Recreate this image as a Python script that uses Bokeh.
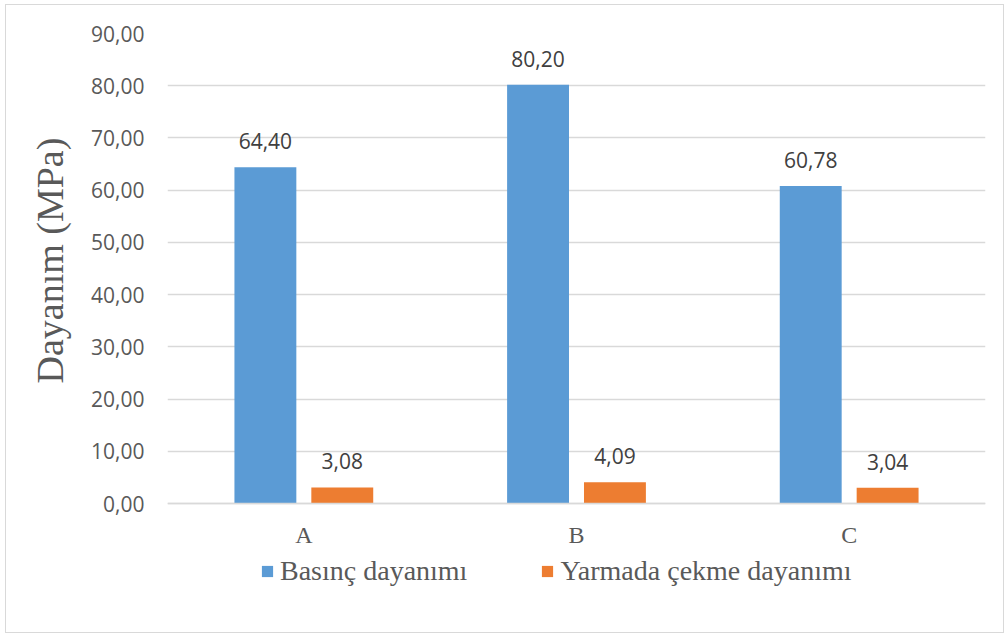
from bokeh.plotting import figure
from bokeh.models import ColumnDataSource, FactorRange, Range1d, FixedTicker, Legend, LegendItem, Title
from bokeh.transform import dodge
from bokeh.core.properties import value
from bokeh.embed import file_html
from bokeh.resources import INLINE

categories = ["A", "B", "C"]
basinc = [64.40, 80.20, 60.78]
yarmada = [3.08, 4.09, 3.04]
series_names = ["Basınç dayanımı", "Yarmada çekme dayanımı"]
y_ticks = [0, 10, 20, 30, 40, 50, 60, 70, 80, 90]
y_tick_labels = ["0,00", "10,00", "20,00", "30,00", "40,00", "50,00", "60,00", "70,00", "80,00", "90,00"]
y_title = "Dayanım (MPa)"

def fmt(v):
    return f"{v:.2f}".replace(".", ",")

src = ColumnDataSource(dict(
    cat=categories,
    basinc=basinc,
    yarmada=yarmada,
    basinc_lbl=[fmt(v) for v in basinc],
    yarmada_lbl=[fmt(v) for v in yarmada],
))

BLUE = "#5B9BD5"
ORANGE = "#ED7D31"
GRAY_TXT = "#595959"
GRID = "#d9d9d9"

# frame extends below the zero line to host the category labels and legend
p = figure(
    x_range=FactorRange(*categories, range_padding=0),
    y_range=Range1d(-24.7, 90),
    frame_width=818, frame_height=599,
    min_border_left=161, min_border_top=28, min_border_bottom=0, min_border_right=18,
    output_backend="svg", toolbar_location=None,
)
p.styles = {"border": "1px solid #d9d9d9", "margin": "4px 0px 0px 5px"}
p.outline_line_color = None
p.background_fill_color = "white"
p.border_fill_color = "white"

OFF = 0.141
W = 0.227
r1 = p.vbar(x=dodge("cat", -OFF, range=p.x_range), top="basinc", width=W, source=src,
            fill_color=BLUE, line_color=None)
r2 = p.vbar(x=dodge("cat", OFF, range=p.x_range), top="yarmada", width=W, source=src,
            fill_color=ORANGE, line_color=None)

for col, off in (("basinc", -OFF), ("yarmada", OFF)):
    p.text(x=dodge("cat", off, range=p.x_range), y=col, text=col + "_lbl", source=src,
           text_font=value("Open Sans"), text_font_size="21px", text_color="#404040",
           text_align="center", text_baseline="alphabetic", y_offset=-26)

# axes
p.xgrid.grid_line_color = None
p.ygrid.grid_line_color = GRID
p.ygrid.grid_line_width = 1.3
p.yaxis.ticker = FixedTicker(ticks=y_ticks)
p.yaxis.major_label_overrides = {t: l for t, l in zip(y_ticks, y_tick_labels)}
p.yaxis.axis_line_color = None
p.yaxis.major_tick_line_color = None
p.yaxis.minor_tick_line_color = None
p.yaxis.major_tick_out = 0
p.yaxis.major_label_standoff = 23
p.yaxis.major_label_text_font = "Open Sans"
p.yaxis.major_label_text_font_size = "21px"
p.yaxis.major_label_text_color = GRAY_TXT

title = Title(text=y_title, align="left", offset=249, standoff=36,
              text_font="Liberation Serif", text_font_size="38px",
              text_font_style="normal", text_color=GRAY_TXT)
p.add_layout(title, "left")

p.xaxis.fixed_location = 0
p.xaxis.axis_line_color = GRID
p.xaxis.axis_line_width = 1.3
p.xaxis.major_tick_line_color = None
p.xaxis.major_tick_out = 0
p.xaxis.major_label_standoff = 18
p.xaxis.major_label_text_font = "Liberation Serif"
p.xaxis.major_label_text_font_size = "24px"
p.xaxis.major_label_text_color = GRAY_TXT

legend = Legend(
    items=[LegendItem(label=series_names[0], renderers=[r1]),
           LegendItem(label=series_names[1], renderers=[r2])],
    orientation="horizontal",
    location=(93, 45),
    glyph_width=14, glyph_height=14, label_standoff=6, spacing=73,
    padding=0, margin=0,
    border_line_alpha=0, background_fill_alpha=0,
    label_text_font="Liberation Serif", label_text_font_size="28px",
    label_text_color=GRAY_TXT,
)
p.add_layout(legend, "center")

open("out.html", "w").write(file_html(p, INLINE))
